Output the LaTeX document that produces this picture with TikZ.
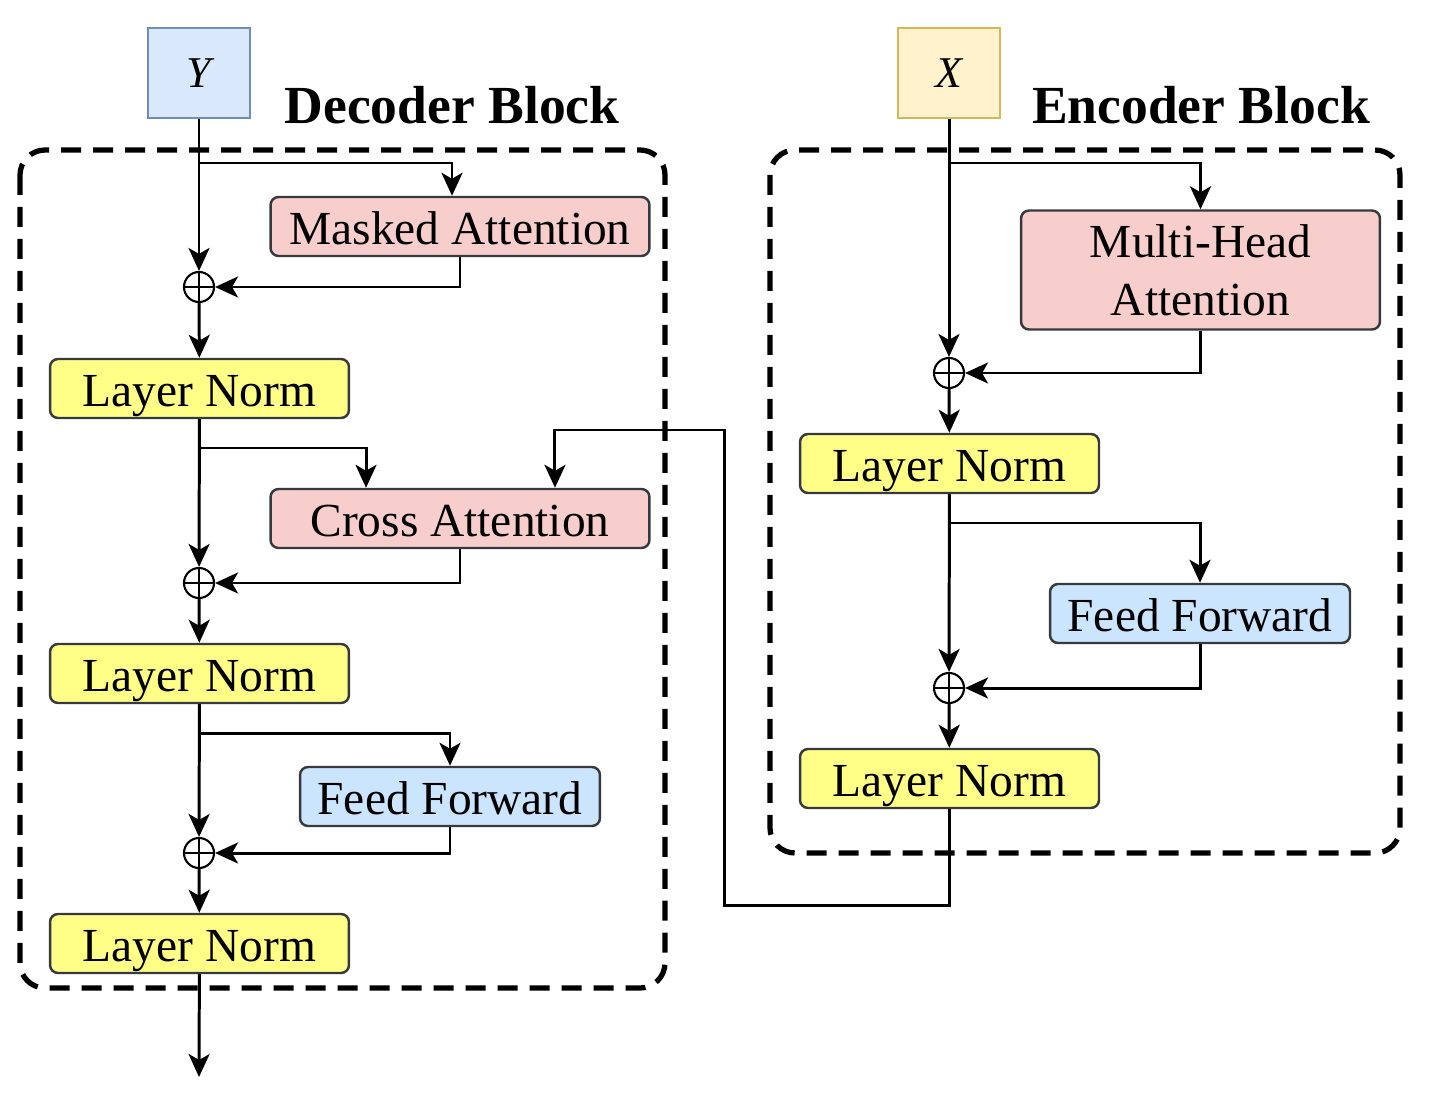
\documentclass[tikz,border=0pt]{standalone}
\usepackage{fontspec}
\setmainfont{Liberation Serif}
\usetikzlibrary{arrows.meta}
\definecolor{attnred}{HTML}{F8CECC}
\definecolor{normyel}{HTML}{FFFF88}
\definecolor{ffblue}{HTML}{CCE5FF}
\definecolor{boxgray}{HTML}{36393D}
\definecolor{yblue}{HTML}{DAE8FC}
\definecolor{yborder}{HTML}{6C8EBF}
\definecolor{xyel}{HTML}{FFF2CC}
\definecolor{xborder}{HTML}{D6B656}

\begin{document}
\begin{tikzpicture}[x=0.02cm,y=-0.02cm]
\tikzset{blk/.style={draw=boxgray, line width=1.4pt, rounded corners=0.16cm, inner sep=0pt, align=center, font=\fontsize{27}{33}\selectfont},
  one/.style={blk, text height=21pt, text depth=0pt},
  attn/.style={one, fill=attnred, minimum width=7.58cm, minimum height=1.18cm},
  norm/.style={one, fill=normyel, minimum width=5.98cm, minimum height=1.18cm},
  ffn/.style={one, fill=ffblue, minimum width=6cm, minimum height=1.18cm},
  inp/.style={draw, line width=1.4pt, minimum width=2.04cm, minimum height=1.8cm, font=\fontsize{25}{29}\selectfont\itshape},
  plus/.style={draw, circle, line width=1.2pt, minimum size=0.6cm, inner sep=0pt, path picture={\draw[line width=1.2pt] (path picture bounding box.north) -- (path picture bounding box.south) (path picture bounding box.west) -- (path picture bounding box.east);}},
  arr/.style={line width=1.7pt, -{Stealth[length=0.46cm, width=0.42cm, inset=0.12cm]}},
  dashbox/.style={line width=3pt, dash pattern=on 0.4cm off 0.24cm, rounded corners=0.5cm},
  ttl/.style={font=\fontsize{30.5}{35}\selectfont\bfseries}}
\useasboundingbox (0,0) rectangle (1434,1119);
\draw[dashbox] (20,150) rectangle (665,988);
\draw[dashbox] (770,150) rectangle (1400,853);
\node[ttl] (dt) at (452,105) {Decoder Block};
\node[ttl] (et) at (1201,105) {Encoder Block};
\node[inp, fill=yblue, draw=yborder] (Y) at (199,73) {Y};
\node[inp, fill=xyel, draw=xborder] (X) at (949,73) {X};
\node[attn] (ma) at (460,226.5) {Masked Attention};
\node[plus] (p1) at (199,287) {};
\node[norm] (n1) at (199.5,388.5) {Layer Norm};
\node[attn] (ca) at (460,518.5) {Cross Attention};
\node[plus] (p2) at (199,583) {};
\node[norm] (n2) at (199.5,673.5) {Layer Norm};
\node[ffn] (f1) at (450,796.5) {Feed Forward};
\node[plus] (p3) at (199,853) {};
\node[norm] (n3) at (199.5,943.5) {Layer Norm};
\coordinate (out) at (199,1077);
\node[blk, fill=attnred, minimum width=7.18cm, minimum height=2.38cm] (mh) at (1200.5,270) {Multi-Head\\Attention};
\node[plus] (q1) at (949,373) {};
\node[norm] (m1) at (949.5,463.5) {Layer Norm};
\node[ffn] (f2) at (1200,613.5) {Feed Forward};
\node[plus] (q2) at (949,688) {};
\node[norm] (m2) at (949.5,778.5) {Layer Norm};
\coordinate (b1) at (199,163);
\coordinate (b2) at (199,448);
\coordinate (b3) at (199,733);
\coordinate (c1) at (949,163);
\coordinate (c2) at (949,523);
\coordinate (e1) at (724,905);
\coordinate (e2) at (555,430);
\draw[arr] (Y) -- (p1);
\draw[arr] (b1) -| ([xshift=-0.16cm]ma.north);
\draw[arr] (ma.south) |- (p1);
\draw[arr] (p1) -- (n1);
\draw[arr] (n1) -- (p2);
\draw[arr] (b2) -| ([xshift=-1.88cm]ca.north);
\draw[arr] (ca.south) |- (p2);
\draw[arr] (p2) -- (n2);
\draw[arr] (n2) -- (p3);
\draw[arr] (b3) -| (f1.north);
\draw[arr] (f1.south) |- (p3);
\draw[arr] (p3) -- (n3);
\draw[arr] (n3) -- (out);
\draw[arr] (X) -- (q1);
\draw[arr] (c1) -| (mh.north);
\draw[arr] (mh.south) |- (q1);
\draw[arr] (q1) -- (m1);
\draw[arr] (m1) -- (q2);
\draw[arr] (c2) -| (f2.north);
\draw[arr] (f2.south) |- (q2);
\draw[arr] (q2) -- (m2);
\draw[arr] (m2.south) |- (e1) |- (e2) -| ([xshift=1.9cm]ca.north);
\end{tikzpicture}
\end{document}
